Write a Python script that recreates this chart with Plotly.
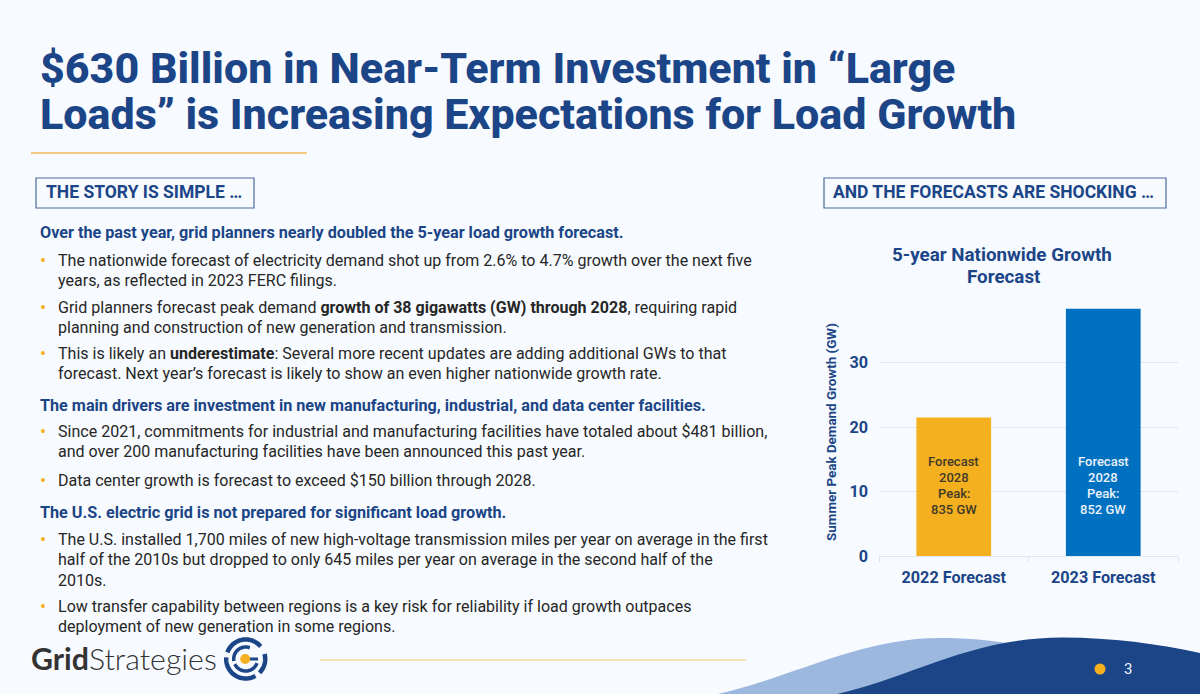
import plotly.graph_objects as go
import math

categories = ["2022 Forecast", "2023 Forecast"]
growth_gw = [21.5, 38.4]
bar_colors = ["#F5B01F", "#0070C0"]
bar_labels = [["Forecast", "2028", "Peak:", "835 GW"], ["Forecast", "2028", "Peak:", "852 GW"]]
bar_label_colors = ["#3F3A2A", "#EAF2FA"]
y_ticks = [0, 10, 20, 30]
title_lines = ["$630 Billion in Near-Term Investment in “Large",
               "Loads” is Increasing Expectations for Load Growth"]
heads = [("Over the past year, grid planners nearly doubled the 5-year load growth forecast.", 232),
         ("The main drivers are investment in new manufacturing, industrial, and data center facilities.", 405),
         ("The U.S. electric grid is not prepared for significant load growth.", 512.5)]
bullets = [
    (["The nationwide forecast of electricity demand shot up from 2.6% to 4.7% growth over the next five",
      "years, as reflected in 2023 FERC filings."], 260),
    (["Grid planners forecast peak demand <b>growth of 38 gigawatts (GW) through 2028</b>, requiring rapid",
      "planning and construction of new generation and transmission."], 307),
    (["This is likely an <b>underestimate</b>: Several more recent updates are adding additional GWs to that",
      "forecast. Next year’s forecast is likely to show an even higher nationwide growth rate."], 353),
    (["Since 2021, commitments for industrial and manufacturing facilities have totaled about $481 billion,",
      "and over 200 manufacturing facilities have been announced this past year."], 431),
    (["Data center growth is forecast to exceed $150 billion through 2028."], 480),
    (["The U.S. installed 1,700 miles of new high-voltage transmission miles per year on average in the first",
      "half of the 2010s but dropped to only 645 miles per year on average in the second half of the",
      "2010s."], 539),
    (["Low transfer capability between regions is a key risk for reliability if load growth outpaces",
      "deployment of new generation in some regions."], 606),
]

W, H = 1200, 694
NAVY = "#1B4587"
GOLD = "#F5B01F"
FONT = "Roboto"
def px(x): return x / W
def py(y): return 1 - y / H

anns, shapes = [], []
def text(x, y, s, size, color="#262626", bold=False, anchor="left", font=FONT, weight=None):
    f = dict(family=font, size=size, color=color)
    if weight: f["weight"] = weight
    anns.append(dict(x=px(x - 2 if anchor == "left" else x), y=py(y), xref="paper", yref="paper",
                     text=f"<b>{s}</b>" if bold else s,
                     showarrow=False, xanchor=anchor, yanchor="middle", font=f))
def line(x0, x1, y, color, w):
    shapes.append(dict(type="line", xref="paper", yref="paper", x0=px(x0), x1=px(x1), y0=py(y), y1=py(y),
                       line=dict(color=color, width=w)))
def rect(x0, y0, x1, y1, color):
    shapes.append(dict(type="rect", xref="paper", yref="paper", x0=px(x0), x1=px(x1), y0=py(y0), y1=py(y1),
                       line=dict(color=color, width=1.2)))
def circle(cx, cy, r, fill):
    shapes.append(dict(type="circle", xref="paper", yref="paper", x0=px(cx - r), x1=px(cx + r),
                       y0=py(cy + r), y1=py(cy - r), fillcolor=fill, line=dict(width=0)))
def poly(cmds, fill=None, color=None, w=0, close=False):
    d = " ".join(c + " " + " ".join(f"{px(x):.5f},{py(y):.5f}" for x, y in pts) for c, pts in cmds)
    shapes.append(dict(type="path", xref="paper", yref="paper", path=d + (" Z" if close else ""), fillcolor=fill,
                       layer="below", line=dict(color=color or "rgba(0,0,0,0)", width=w)))
def arc(cx, cy, r, a0, a1, w, n=30):
    pts = [(cx + r * math.cos(math.radians(a0 + (a1 - a0) * i / n)),
            cy - r * math.sin(math.radians(a0 + (a1 - a0) * i / n))) for i in range(n + 1)]
    poly([("M", pts[:1])] + [("L", [p]) for p in pts[1:]], None, NAVY, w)

for s, y in zip(title_lines, (68, 114)):
    text(40, y, s, 43, NAVY, False, weight=800)
line(31, 307, 153, "#F0BE55", 1.5)
rect(36, 178, 254, 208, "#4A6A9C")
text(46, 192, "THE STORY IS SIMPLE …", 17.5, NAVY, True)
rect(824, 178, 1166, 208, "#4A6A9C")
text(833, 192, "AND THE FORECASTS ARE SHOCKING …", 17.5, NAVY, True)

for s, y in heads:
    text(40, y, s, 16.2, NAVY, True)
for lines, y in bullets:
    text(40, y, "•", 18, GOLD)
    for i, s in enumerate(lines):
        text(58, y + i * 20.5, s, 16.05)

text(1002, 255, "5-year Nationwide Growth", 18.8, NAVY, True, "center")
text(1003, 277, "Forecast", 18.8, NAVY, True, "center")

# footer
poly([("M", [(718, 694)]), ("C", [(790, 678), (860, 638), (940, 638)]),
      ("C", [(975, 638), (1000, 641), (1030, 648)]), ("L", [(1030, 694)])], "#9DB8DF", close=True)
poly([("M", [(837, 694)]), ("C", [(910, 678), (970, 637.5), (1063, 637.5)]),
      ("C", [(1110, 637.5), (1160, 644), (1200, 653)]), ("L", [(1200, 694)])], NAVY, close=True)
line(320, 746, 660, "#F3D9A0", 1.5)
circle(1100, 669, 5.5, GOLD)
text(1128, 669, "3", 15, "#F2F6FB", anchor="center")

# logo
anns.append(dict(x=px(29), y=py(658), xref="paper", yref="paper", showarrow=False, xanchor="left", yanchor="middle",
                 text="<b>Grid</b>Strategies", font=dict(family="Lato", size=30.3, color="#333333", weight=300)))
arc(245.7, 659, 19.5, 40, 160, 4.5)
arc(245.7, 659, 19.5, 175, 300, 4.5)
arc(245.7, 659, 19.5, 315, 375, 4.5)
arc(245.7, 659, 12, 70, 190, 3.5)
arc(245.7, 659, 12, 205, 340, 3.5)
poly([("M", [(248, 659)]), ("L", [(258, 659)])], None, NAVY, 3)
circle(245.2, 659, 5, GOLD)

for c, lab, col in zip(categories, bar_labels, bar_label_colors):
    for i, s in enumerate(lab):
        anns.append(dict(x=c, y=0, xref="x", yref="y", text=s, showarrow=False, xanchor="center", yanchor="middle",
                         yshift=94.5 - i * 16, font=dict(family=FONT, size=13, color=col, weight=500)))

fig = go.Figure(go.Bar(x=categories, y=growth_gw, marker=dict(color=bar_colors, line=dict(width=0)), width=0.5))
fig.update_layout(
    width=W, height=H, margin=dict(l=0, r=0, t=0, b=0), paper_bgcolor="#F7FBFF", plot_bgcolor="rgba(0,0,0,0)",
    showlegend=False, annotations=anns, shapes=shapes, font=dict(family=FONT),
    xaxis=dict(domain=[px(879), px(1178)], anchor="y", tickson="boundaries", ticks="outside", ticklen=5,
               tickcolor="#DDE5F0", showline=True, linecolor="#DDE5F0", showgrid=False, automargin=False,
               ticklabelstandoff=7,
               tickfont=dict(family=FONT, size=16.2, color=NAVY, weight=700)),
    yaxis=dict(domain=[py(556), py(308)], anchor="x", range=[0, 38.5], tickvals=y_ticks, showline=False,
               gridcolor="#DFE7F3", gridwidth=1.3, zeroline=False, ticks="", automargin=False,
               ticklabelstandoff=10,
               tickfont=dict(family=FONT, size=16.2, color=NAVY, weight=700),
               title=dict(text="<b>Summer Peak Demand Growth (GW)</b>", standoff=9,
                          font=dict(family=FONT, size=13.4, color=NAVY))),
)
fig.write_html("out.html", config=dict(displayModeBar=False),
               post_script="document.body.style.margin='0';document.documentElement.style.background='#F7FBFF';")
